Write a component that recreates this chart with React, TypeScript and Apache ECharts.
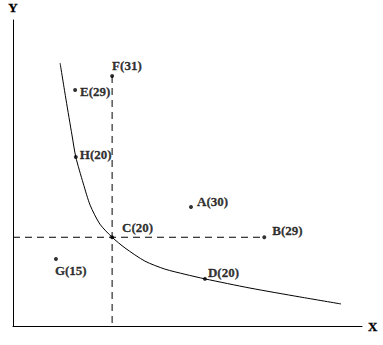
import React, { useEffect, useRef } from "react";
import * as echarts from "echarts";

// Indifference curve sample points (arbitrary units, 0-100)
const curveX = [13.5, 15.2, 16.9, 18.0, 20.1, 22.1, 24.9, 28.4, 32.1, 37.8, 43.5, 49.3, 55.0, 67.9, 82.2, 94.0];
const curveY = [85.9, 73.9, 62.4, 55.2, 46.7, 39.5, 33.3, 29.0, 25.5, 21.2, 18.6, 16.9, 15.4, 12.4, 9.5, 7.2];

// Labelled points
const pointNames = ["A", "B", "C", "D", "E", "F", "G", "H"];
const pointValues = [30, 29, 20, 20, 29, 31, 15, 20];
const pointX = [51.0, 72.0, 28.4, 55.0, 17.8, 28.4, 12.3, 18.0];
const pointY = [38.9, 29.0, 29.0, 15.4, 77.1, 81.7, 21.9, 55.2];

// label placement (px offsets from each dot), styling only
const labelOffsets: [number, number][] = [
  [2, -5], [4, -7], [6, -10], [-1, -6], [1, 1], [-4, -10], [-5, 12], [0, -3],
];

export default function App() {
  const ref = useRef<HTMLDivElement>(null);
  useEffect(() => {
    if (!ref.current) return;
    const chart = echarts.init(ref.current, undefined, { renderer: "svg" });
    const iC = pointNames.indexOf("C");
    const iF = pointNames.indexOf("F");
    const iB = pointNames.indexOf("B");
    const font = {
      fontFamily: "Liberation Serif", fontWeight: "bold" as const, fontSize: 13, color: "#000",
      textBorderColor: "#000", textBorderWidth: 0.3,
    };
    chart.setOption({
      animation: false,
      backgroundColor: "#fff",
      grid: { left: 13, right: 21, top: 20, bottom: 19 },
      xAxis: {
        type: "value", min: 0, max: 100,
        name: "X", nameLocation: "end", nameGap: 6, nameTextStyle: font,
        axisLine: { show: true, lineStyle: { color: "#000", width: 1 } },
        axisTick: { show: false }, axisLabel: { show: false }, splitLine: { show: false },
      },
      yAxis: {
        type: "value", min: 0, max: 100,
        name: "Y", nameLocation: "end", nameGap: 6, nameTextStyle: { ...font, align: "center" },
        axisLine: { show: true, lineStyle: { color: "#000", width: 1 } },
        axisTick: { show: false }, axisLabel: { show: false }, splitLine: { show: false },
      },
      series: [
        {
          type: "line", smooth: 0.25, symbol: "none",
          lineStyle: { color: "#000", width: 1 },
          data: curveX.map((x, i) => [x, curveY[i]]),
        },
        {
          type: "line", symbol: "none",
          lineStyle: { color: "#000", width: 1, type: [7, 5] },
          data: [[pointX[iF], pointY[iF]], [pointX[iF], 0]],
        },
        {
          type: "line", symbol: "none",
          lineStyle: { color: "#000", width: 1, type: [7, 5] },
          data: [[0, pointY[iC]], [pointX[iB], pointY[iB]]],
        },
        {
          type: "scatter", symbol: "circle", symbolSize: 4,
          itemStyle: { color: "#000" },
          data: pointNames.map((n, i) => ({
            value: [pointX[i], pointY[i]],
            name: n,
            label: {
              show: true, position: "right", distance: 2,
              offset: labelOffsets[i],
              formatter: `${n}(${pointValues[i]})`,
              ...font,
            },
          })),
        },
      ],
    });
    return () => chart.dispose();
  }, []);
  return <div ref={ref} style={{ position: "absolute", left: 0, top: 0, width: 383, height: 345 }} />;
}
